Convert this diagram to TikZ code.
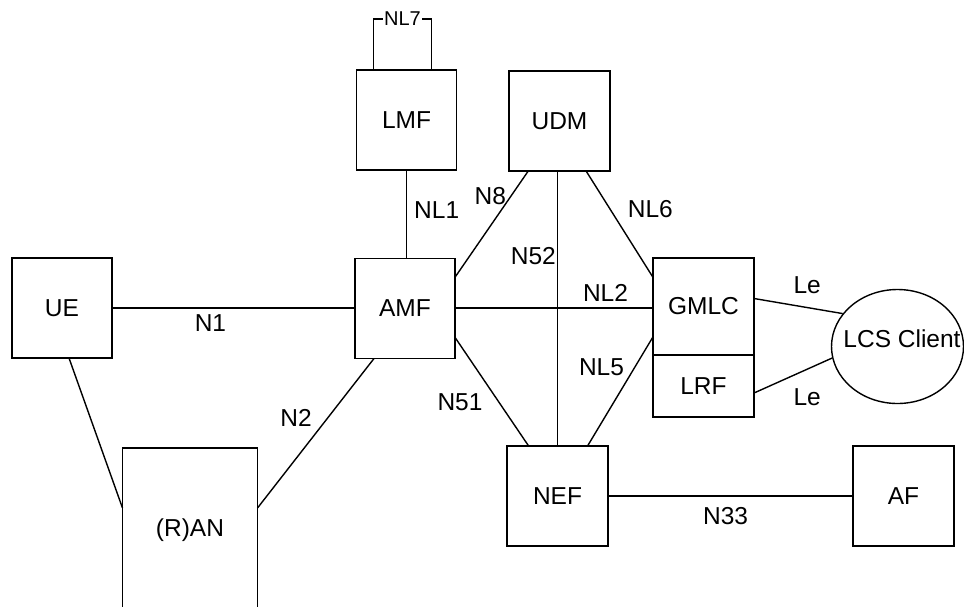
\documentclass[tikz,border=0pt]{standalone}
\usepackage{fontspec}
\setmainfont{Liberation Sans}
\usetikzlibrary{positioning,shapes.geometric}

\begin{document}
\begin{tikzpicture}[x=1pt, y=-1pt,
    line width=1.4pt,
    font=\fontsize{24.5}{28}\selectfont,
    nfbox/.style={draw, minimum width=100pt, minimum height=100pt,
                  inner sep=0pt, outer sep=0pt},
    lbl/.style={inner sep=2pt}]
    \useasboundingbox (0,0) rectangle (964,606);
    \clip (0,0) rectangle (964,606);
%   boxes
    \node[nfbox] (ue) at (62,308) {UE};
    \node[nfbox] (lmf) at (406.5,120) {LMF};
    \node[nfbox, minimum width=101pt] (udm) at (559.5,121) {UDM};
    \node[nfbox] (amf) at (405,308.5) {AMF};
    \node[nfbox, minimum width=101pt, minimum height=97pt] (gmlc) at (703.5,306.5) {GMLC};
    \node[nfbox, minimum width=101pt, minimum height=62pt, below=0pt of gmlc] (lrf) {LRF};
    \node[draw, ellipse, minimum width=132pt, minimum height=114pt,
          inner sep=0pt] (lcs) at (897.5,346.5) {};
    \node (lcstext) at (902,339) {LCS Client};
    \node[nfbox, minimum width=101pt] (nef) at (557.5,496) {NEF};
    \node[nfbox, minimum width=101pt] (af) at (903.5,496) {AF};
    \node[nfbox, minimum width=135pt, minimum height=164pt] (ran) at (190,530) {(R)AN};
%   links
    \draw ([xshift=-33pt]lmf.north) -- ++(0,51pt)
          -| node[pos=0.25, fill=white, inner sep=1pt,
                  font=\fontsize{20}{24}\selectfont] {NL7}
          ([xshift=25pt]lmf.north);
    \draw (ue.east) -- node[lbl, below=4pt, pos=0.405] {N1} (ue.east -| amf.west);
    \draw ([xshift=7pt]ue.south) -- ([yshift=22pt]ran.west);
    \draw ([yshift=22pt]ran.east) -- node[lbl, left=13pt, pos=0.6] {N2}
          ([xshift=-31pt]amf.south);
    \draw (lmf.south) -- node[lbl, right=5pt, pos=0.45] {NL1} (lmf.south |- amf.north);
    \draw (amf.32) -- node[lbl, left=2pt, pos=0.76] {N8} (udm.238);
    \draw (nef.north |- udm.south) -- node[lbl, left=-1pt, pos=0.31] {N52} (nef.north);
    \draw (amf.east |- ue.east) -- node[lbl, above=4pt, pos=0.76] {NL2}
          (ue.east -| gmlc.west);
    \draw (udm.298) -- node[lbl, right=15pt, pos=0.36] {NL6} (gmlc.150);
    \draw (amf.330) -- node[lbl, left=14pt, pos=0.6] {N51} (nef.120);
    \draw (gmlc.211) -- node[lbl, left=8pt, pos=0.28] {NL5} (nef.59);
    \draw ([yshift=8pt]gmlc.east) -- node[lbl, above=11pt, pos=0.6] {Le} (lcs.149);
    \draw ([yshift=-7pt]lrf.east) -- node[lbl, below=17pt, pos=0.68] {Le} (lcs.190);
    \draw (nef.east) -- node[lbl, below=9pt, pos=0.48] {N33} (af.west);
\end{tikzpicture}
\end{document}
